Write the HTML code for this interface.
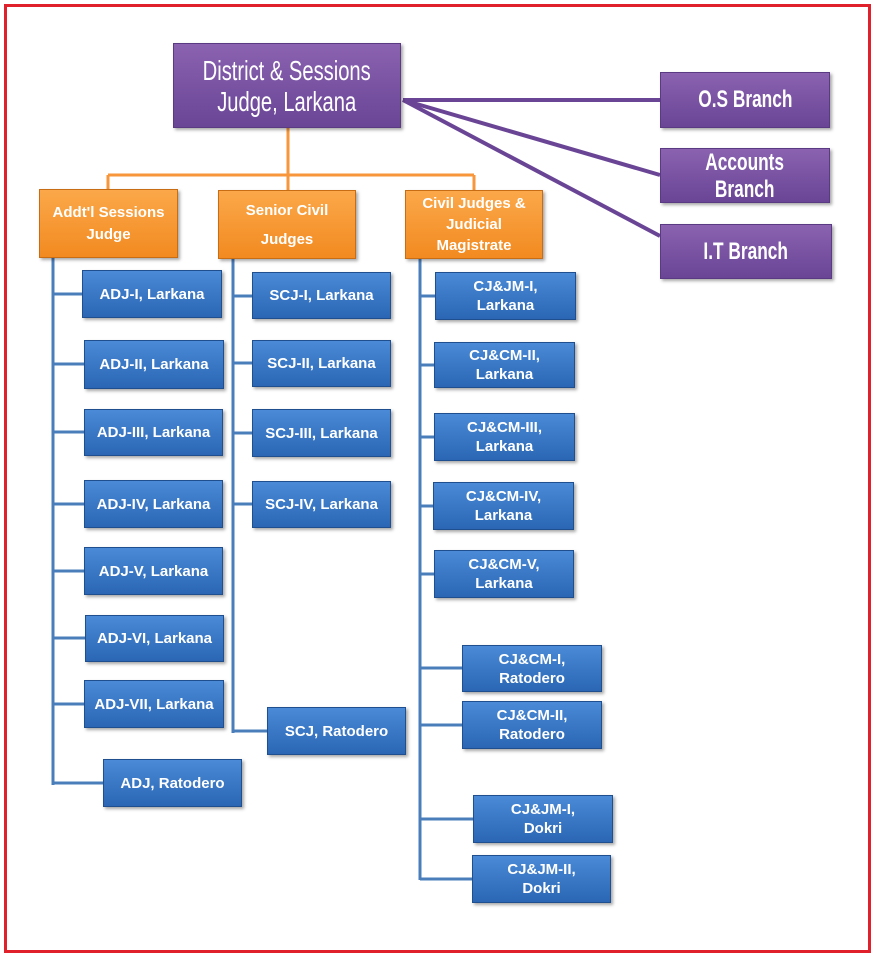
<!DOCTYPE html>
<html><head><meta charset="utf-8"><style>
body{margin:0;width:874px;height:956px;background:#fff;position:relative;overflow:hidden;font-family:"Liberation Sans",sans-serif}
.frame{position:absolute;left:4px;top:4px;width:861px;height:943px;border:3px solid #e0202a}
.b{position:absolute;display:flex;align-items:center;justify-content:center;text-align:center;color:#fff;font-weight:bold;box-sizing:border-box;box-shadow:2px 2px 3px rgba(0,0,0,.35)}
.p{background:linear-gradient(#8a62b0,#6a4596);border:1px solid #5a3a82;font-weight:normal}
.p span{display:inline-block;transform:scaleX(0.72);white-space:nowrap}
.o{background:linear-gradient(#fba84a,#f28a20);border:1px solid #c86d14;font-size:15px;line-height:22px}
.u{background:linear-gradient(#4a8ad6,#2a66b4);border:1px solid #1f4f8e;font-size:15px;line-height:19px}
</style></head><body>
<div class="frame"></div>
<svg width="874" height="956" style="position:absolute;left:0;top:0">
<g stroke="#6a4596" stroke-width="4" fill="none">
<line x1="403" y1="100" x2="660" y2="100"/>
<line x1="403" y1="100" x2="660" y2="175"/>
<line x1="403" y1="100" x2="660" y2="236"/>
</g>
<g stroke="#f7963a" stroke-width="3" fill="none">
<line x1="288" y1="128" x2="288" y2="190"/>
<line x1="108" y1="175" x2="474" y2="175"/>
<line x1="108" y1="175" x2="108" y2="189"/>
<line x1="474" y1="175" x2="474" y2="190"/>
</g>
<g stroke="#4a7ebb" stroke-width="3" fill="none">
<line x1="53" y1="258" x2="53" y2="785"/>
<line x1="53" y1="294" x2="82" y2="294"/><line x1="53" y1="364" x2="84" y2="364"/><line x1="53" y1="432" x2="84" y2="432"/><line x1="53" y1="504" x2="84" y2="504"/><line x1="53" y1="571" x2="84" y2="571"/><line x1="53" y1="638" x2="85" y2="638"/><line x1="53" y1="704" x2="84" y2="704"/><line x1="53" y1="783" x2="103" y2="783"/>
<line x1="233" y1="259" x2="233" y2="733"/>
<line x1="233" y1="296" x2="252" y2="296"/><line x1="233" y1="363" x2="252" y2="363"/><line x1="233" y1="433" x2="252" y2="433"/><line x1="233" y1="504" x2="252" y2="504"/><line x1="233" y1="731" x2="267" y2="731"/>
<line x1="420" y1="259" x2="420" y2="880"/>
<line x1="420" y1="296" x2="435" y2="296"/><line x1="420" y1="365" x2="434" y2="365"/><line x1="420" y1="437" x2="434" y2="437"/><line x1="420" y1="506" x2="433" y2="506"/><line x1="420" y1="574" x2="434" y2="574"/><line x1="420" y1="668" x2="462" y2="668"/><line x1="420" y1="725" x2="462" y2="725"/><line x1="420" y1="819" x2="473" y2="819"/><line x1="420" y1="879" x2="472" y2="879"/>
</g>
</svg>
<div class="b p" style="left:173px;top:43px;width:228px;height:85px;font-size:28px;line-height:31px"><span>District &amp; Sessions<br>Judge, Larkana</span></div>
<div class="b p" style="left:660px;top:72px;width:170px;height:56px;font-size:24px;font-weight:bold"><span>O.S Branch</span></div>
<div class="b p" style="left:660px;top:148px;width:170px;height:55px;font-size:24px;line-height:27px;font-weight:bold"><span>Accounts<br>Branch</span></div>
<div class="b p" style="left:660px;top:224px;width:172px;height:55px;font-size:24px;font-weight:bold"><span>I.T Branch</span></div>
<div class="b o" style="left:39px;top:189px;width:139px;height:69px">Addt'l Sessions<br>Judge</div>
<div class="b o" style="left:218px;top:190px;width:138px;height:69px;line-height:29px">Senior Civil<br>Judges</div>
<div class="b o" style="left:405px;top:190px;width:138px;height:69px;line-height:21px">Civil Judges &amp;<br>Judicial<br>Magistrate</div>
<div class="b u" style="left:82px;top:270px;width:140px;height:48px">ADJ-I, Larkana</div>
<div class="b u" style="left:84px;top:340px;width:140px;height:49px">ADJ-II, Larkana</div>
<div class="b u" style="left:84px;top:409px;width:139px;height:47px">ADJ-III, Larkana</div>
<div class="b u" style="left:84px;top:480px;width:139px;height:48px">ADJ-IV, Larkana</div>
<div class="b u" style="left:84px;top:547px;width:139px;height:48px">ADJ-V, Larkana</div>
<div class="b u" style="left:85px;top:615px;width:139px;height:47px">ADJ-VI, Larkana</div>
<div class="b u" style="left:84px;top:680px;width:140px;height:48px">ADJ-VII, Larkana</div>
<div class="b u" style="left:103px;top:759px;width:139px;height:48px">ADJ, Ratodero</div>
<div class="b u" style="left:252px;top:272px;width:139px;height:47px">SCJ-I, Larkana</div>
<div class="b u" style="left:252px;top:340px;width:139px;height:47px">SCJ-II, Larkana</div>
<div class="b u" style="left:252px;top:409px;width:139px;height:48px">SCJ-III, Larkana</div>
<div class="b u" style="left:252px;top:481px;width:139px;height:47px">SCJ-IV, Larkana</div>
<div class="b u" style="left:267px;top:707px;width:139px;height:48px">SCJ, Ratodero</div>
<div class="b u" style="left:435px;top:272px;width:141px;height:48px">CJ&amp;JM-I,<br>Larkana</div>
<div class="b u" style="left:434px;top:342px;width:141px;height:46px">CJ&amp;CM-II,<br>Larkana</div>
<div class="b u" style="left:434px;top:413px;width:141px;height:48px">CJ&amp;CM-III,<br>Larkana</div>
<div class="b u" style="left:433px;top:482px;width:141px;height:48px">CJ&amp;CM-IV,<br>Larkana</div>
<div class="b u" style="left:434px;top:550px;width:140px;height:48px">CJ&amp;CM-V,<br>Larkana</div>
<div class="b u" style="left:462px;top:645px;width:140px;height:47px">CJ&amp;CM-I,<br>Ratodero</div>
<div class="b u" style="left:462px;top:701px;width:140px;height:48px">CJ&amp;CM-II,<br>Ratodero</div>
<div class="b u" style="left:473px;top:795px;width:140px;height:48px">CJ&amp;JM-I,<br>Dokri</div>
<div class="b u" style="left:472px;top:855px;width:139px;height:48px">CJ&amp;JM-II,<br>Dokri</div>
</body></html>
